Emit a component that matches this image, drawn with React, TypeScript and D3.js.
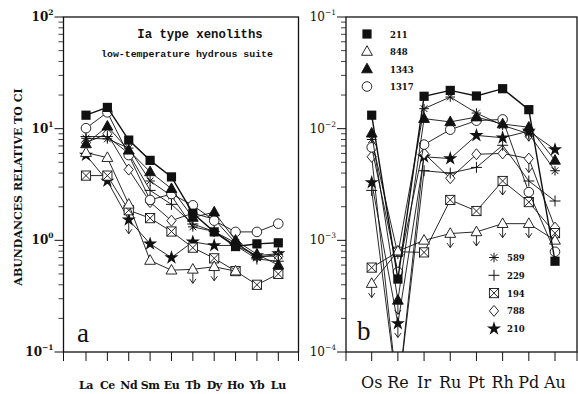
import * as d3 from 'd3';

// element labels
const reeLabels = ['La', 'Ce', 'Nd', 'Sm', 'Eu', 'Tb', 'Dy', 'Ho', 'Yb', 'Lu'];
const pgeLabels = ['Os', 'Re', 'Ir', 'Ru', 'Pt', 'Rh', 'Pd', 'Au'];

// sample ids and their marker kinds
const sampleIds = ['211', '848', '1343', '1317', '589', '229', '194', '788', '210'];
const markerKinds = ['squareFilled', 'triangle', 'triangleFilled', 'circle', 'asterisk', 'plus', 'boxX', 'diamond', 'star'];

// panel a: REE / CI
const ree211 = [13.2, 15.5, 7.9, 5.2, 3.7, 1.75, 1.19, 0.88, 0.93, 0.95];
const ree848 = [6.1, 5.5, 2.1, 0.66, 0.54, 0.55, 0.58, 0.53, null, null];
const ree1343 = [7.3, 10.5, 6.4, 4.1, 2.9, 1.6, 1.79, 1.0, 0.75, 0.6];
const ree1317 = [10.1, 14, 5.8, 2.3, 2.6, 2.06, 1.5, 1.19, 1.19, 1.41];
const ree589 = [8.2, 8.1, 6.7, 3.4, 2.5, 1.32, 1.2, 0.95, 0.7, 0.75];
const ree229 = [8.5, 8.5, 6.0, 2.8, 2.1, 1.4, 1.2, 0.9, 0.68, 0.65];
const ree194 = [3.8, 3.8, 1.86, 1.58, 1.2, 0.86, 0.69, 0.53, 0.4, 0.5];
const ree788 = [7.5, 9.0, 4.3, 2.2, 1.5, 1.75, 1.55, 0.95, 0.72, 0.72];
const ree210 = [5.8, 3.4, 1.53, 0.93, 0.7, 0.97, 0.9, 0.9, 0.73, 0.76];

// panel b: PGE + Au / CI
const pge211 = [0.0132, 0.00045, 0.0195, 0.022, 0.0196, 0.0228, 0.0148, 0.00065];
const pge848 = [0.00041, 0.0008, 0.001, 0.00115, 0.00119, 0.00141, 0.00141, 0.001];
const pge1343 = [0.0091, 0.00029, 0.0123, 0.0115, 0.0127, 0.011, 0.0103, 0.0052];
const pge1317 = [0.0068, 0.00052, 0.0072, 0.0098, 0.0118, 0.0121, 0.0027, 0.00079];
const pge589 = [0.008, 0.00075, 0.0151, 0.0192, 0.0138, 0.0107, 0.009, 0.0042];
const pge229 = [0.0028, 0.00004, 0.0042, 0.004, 0.0045, 0.0071, 0.0034, 0.00225];
const pge194 = [0.00057, 0.00079, 0.00078, 0.0023, 0.00183, 0.0034, 0.0022, 0.00116];
const pge788 = [0.0056, 0.00004, 0.006, 0.0036, 0.0059, 0.006, 0.0054, 0.0013];
const pge210 = [0.0033, 0.00018, 0.0056, 0.0054, 0.0087, 0.0083, 0.0095, 0.0065];

// upper limits (sample, element)
const reeLimits = [['848', 'Tb'], ['848', 'Dy'], ['210', 'Nd']];
const pgeLimits = [
  ['848', 'Os'], ['848', 'Ru'], ['848', 'Pt'], ['848', 'Rh'], ['848', 'Pd'],
  ['1343', 'Re'], ['210', 'Re'], ['194', 'Rh'], ['1343', 'Pd'], ['788', 'Pd'],
];

const reeSeries = [ree211, ree848, ree1343, ree1317, ree589, ree229, ree194, ree788, ree210];
const pgeSeries = [pge211, pge848, pge1343, pge1317, pge589, pge229, pge194, pge788, pge210];

const topLegend = ['211', '848', '1343', '1317'];
const bottomLegend = ['589', '229', '194', '788', '210'];

const W = 578;
const H = 394;
const yTop = 17;
const yBot = 352;
const aLeft = 63.5;
const aRight = 298.5;
const bLeft = 346;
const bRight = 577;

const FONT = "'DejaVu Serif', serif";

function Marker({ kind, x, y }: { kind: string; x: number; y: number }) {
  const s = 4.6;
  switch (kind) {
    case 'squareFilled':
      return <rect x={x - s} y={y - s} width={2 * s} height={2 * s} fill="#111" />;
    case 'triangle':
    case 'triangleFilled': {
      const p = `M${x},${y - 5.8}L${x + 5.4},${y + 3.8}L${x - 5.4},${y + 3.8}Z`;
      return <path d={p} fill={kind === 'triangle' ? '#fff' : '#111'} stroke="#111" strokeWidth={0.9} />;
    }
    case 'circle':
      return <circle cx={x} cy={y} r={4.8} fill="#fff" stroke="#111" strokeWidth={0.9} />;
    case 'asterisk': {
      const r = 4.8;
      const d = r * 0.707;
      return (
        <path
          d={`M${x},${y - r}V${y + r}M${x - r},${y}H${x + r}M${x - d},${y - d}L${x + d},${y + d}M${x - d},${y + d}L${x + d},${y - d}`}
          stroke="#111"
          strokeWidth={1}
        />
      );
    }
    case 'plus':
      return <path d={`M${x},${y - 5.5}V${y + 5.5}M${x - 5.5},${y}H${x + 5.5}`} stroke="#111" strokeWidth={1} />;
    case 'boxX':
      return (
        <g stroke="#111" strokeWidth={0.9}>
          <rect x={x - s} y={y - s} width={2 * s} height={2 * s} fill="#fff" />
          <path d={`M${x - s},${y - s}L${x + s},${y + s}M${x - s},${y + s}L${x + s},${y - s}`} />
        </g>
      );
    case 'diamond':
      return (
        <path d={`M${x},${y - 5.5}L${x + 4.6},${y}L${x},${y + 5.5}L${x - 4.6},${y}Z`} fill="#fff" stroke="#111" strokeWidth={0.9} />
      );
    case 'star':
    default:
      return <path d={d3.symbol(d3.symbolStar, 62)() as string} transform={`translate(${x},${y})`} fill="#111" />;
  }
}

function Arrow({ x, y }: { x: number; y: number }) {
  return (
    <path
      d={`M${x},${y}V${y + 14}M${x - 3.2},${y + 9.5}L${x},${y + 14}L${x + 3.2},${y + 9.5}`}
      fill="none"
      stroke="#111"
      strokeWidth={0.9}
    />
  );
}

function LogAxis({ y, x, lo, hi, bold }: { y: d3.ScaleLogarithmic<number, number>; x: number; lo: number; hi: number; bold: boolean }) {
  const ticks: JSX.Element[] = [];
  for (let e = lo; e <= hi; e++) {
    const v = Math.pow(10, e);
    ticks.push(<line key={`M${e}`} x1={x - 9} x2={x} y1={y(v)} y2={y(v)} stroke="#111" strokeWidth={1} />);
    ticks.push(
      <text key={`L${e}`} x={x - 10} y={y(v) + 4} textAnchor="end" fontFamily={FONT} fontWeight={bold ? 'bold' : 'normal'} fontSize={12} fill="#111">
        10
        <tspan dy={-6} fontSize={7.5}>{String(e).replace('-', '\u2212')}</tspan>
      </text>
    );
    if (e < hi) {
      for (let m = 2; m <= 9; m++) {
        const yy = y(m * v);
        ticks.push(<line key={`m${e}${m}`} x1={x - 5} x2={x} y1={yy} y2={yy} stroke="#111" strokeWidth={0.8} />);
      }
    }
  }
  return <g>{ticks}</g>;
}

export default function App() {
  const yA = d3.scaleLog().domain([0.1, 100]).range([yBot, yTop]);
  const yB = d3.scaleLog().domain([1e-4, 1e-1]).range([yBot, yTop]);
  const xA = d3.scaleLinear().domain([0, reeLabels.length - 1]).range([86, 278.3]);
  const xB = d3.scaleLinear().domain([0, pgeLabels.length - 1]).range([371.7, 555]);

  const lineA = d3
    .line<number | null>()
    .defined((d) => d != null)
    .x((_, i) => xA(i))
    .y((d) => yA(d as number));
  const lineB = d3
    .line<number | null>()
    .defined((d) => d != null)
    .x((_, i) => xB(i))
    .y((d) => yB(d as number));

  const xTicksA = [aLeft, ...reeLabels.map((_, i) => xA(i)), aRight];
  const xTicksB = [bLeft, ...pgeLabels.map((_, i) => xB(i)), bRight];

  // draw order: bottom-most series first so filled markers sit on top
  const order = [8, 7, 6, 5, 4, 3, 2, 1, 0];

  return (
    <svg width={W} height={H} style={{ position: 'absolute', left: 0, top: 0, background: '#fff' }}>
      <defs>
        <clipPath id="clipA">
          <rect x={aLeft} y={yTop} width={aRight - aLeft} height={yBot - yTop} />
        </clipPath>
        <clipPath id="clipB">
          <rect x={bLeft} y={yTop} width={bRight - bLeft} height={yBot - yTop} />
        </clipPath>
      </defs>

      {/* panel a */}
      <rect x={aLeft} y={yTop} width={aRight - aLeft} height={yBot - yTop} fill="none" stroke="#111" strokeWidth={1.3} />
      <LogAxis y={yA} x={aLeft} lo={-1} hi={2} bold={true} />
      {xTicksA.map((t, i) => (
        <line key={i} x1={t} x2={t} y1={yBot} y2={yBot + 9} stroke="#111" strokeWidth={1} />
      ))}
      {reeLabels.map((l, i) => (
        <text key={l} x={xA(i)} y={389} textAnchor="middle" fontFamily={FONT} fontWeight="bold" fontSize={11} letterSpacing={-0.4} fill="#111">
          {l}
        </text>
      ))}
      <text
        transform="translate(22,187) rotate(-90)"
        textAnchor="middle"
        fontFamily={FONT}
        fontWeight="bold"
        fontSize={11}
        fill="#111"
      >
        ABUNDANCES RELATIVE TO CI
      </text>
      <text x={200} y={38} textAnchor="middle" fontFamily="'Liberation Mono', monospace" fontWeight="bold" fontSize={12.3} fill="#111">
        Ia type xenoliths
      </text>
      <text x={187} y={57} textAnchor="middle" fontFamily="'Liberation Mono', monospace" fontWeight="bold" fontSize={9.9} fill="#111">
        low-temperature hydrous suite
      </text>
      <text x={77} y={342} fontFamily="'Liberation Serif', serif" fontSize={27} fill="#111">
        a
      </text>
      <g clipPath="url(#clipA)">
        {order.map((k) => (
          <g key={sampleIds[k]}>
            <path d={lineA(reeSeries[k]) as string} fill="none" stroke="#111" strokeWidth={k === 0 ? 1.4 : 0.9} />
            {reeLimits
              .filter((l) => l[0] === sampleIds[k])
              .map((l) => {
                const i = reeLabels.indexOf(l[1]);
                return <Arrow key={l[1]} x={xA(i)} y={yA(reeSeries[k][i] as number)} />;
              })}
            {reeSeries[k].map((v, i) =>
              v == null ? null : <Marker key={i} kind={markerKinds[k]} x={xA(i)} y={yA(v)} />
            )}
          </g>
        ))}
      </g>

      {/* panel b */}
      <rect x={bLeft} y={yTop} width={bRight - bLeft} height={yBot - yTop} fill="none" stroke="#111" strokeWidth={1.3} />
      <LogAxis y={yB} x={bLeft} lo={-4} hi={-1} bold={false} />
      {xTicksB.map((t, i) => (
        <line key={i} x1={t} x2={t} y1={yBot} y2={yBot + 9} stroke="#111" strokeWidth={1} />
      ))}
      {pgeLabels.map((l, i) => (
        <text key={l} x={xB(i)} y={388} textAnchor="middle" fontFamily={FONT} fontSize={16} fill="#111">
          {l}
        </text>
      ))}
      <text x={357} y={340} fontFamily="'Liberation Serif', serif" fontSize={27} fill="#111">
        b
      </text>
      <g clipPath="url(#clipB)">
        {order.map((k) => (
          <g key={sampleIds[k]}>
            <path d={lineB(pgeSeries[k]) as string} fill="none" stroke="#111" strokeWidth={k === 0 ? 1.4 : 0.9} />
            {pgeLimits
              .filter((l) => l[0] === sampleIds[k])
              .map((l) => {
                const i = pgeLabels.indexOf(l[1]);
                return <Arrow key={l[1]} x={xB(i)} y={yB(pgeSeries[k][i])} />;
              })}
            {pgeSeries[k].map((v, i) => (
              <Marker key={i} kind={markerKinds[k]} x={xB(i)} y={yB(v)} />
            ))}
          </g>
        ))}
      </g>

      {/* legends */}
      {topLegend.map((id, j) => (
        <g key={id}>
          <Marker kind={markerKinds[sampleIds.indexOf(id)]} x={367} y={34 + j * 17.5} />
          <text x={390} y={37.5 + j * 17.5} fontFamily={FONT} fontWeight="bold" fontSize={8.5} fill="#111">
            {id}
          </text>
        </g>
      ))}
      {bottomLegend.map((id, j) => (
        <g key={id}>
          <Marker kind={markerKinds[sampleIds.indexOf(id)]} x={494} y={257.5 + j * 17.8} />
          <text x={507} y={261 + j * 17.8} fontFamily={FONT} fontWeight="bold" fontSize={8.5} fill="#111">
            {id}
          </text>
        </g>
      ))}
    </svg>
  );
}
